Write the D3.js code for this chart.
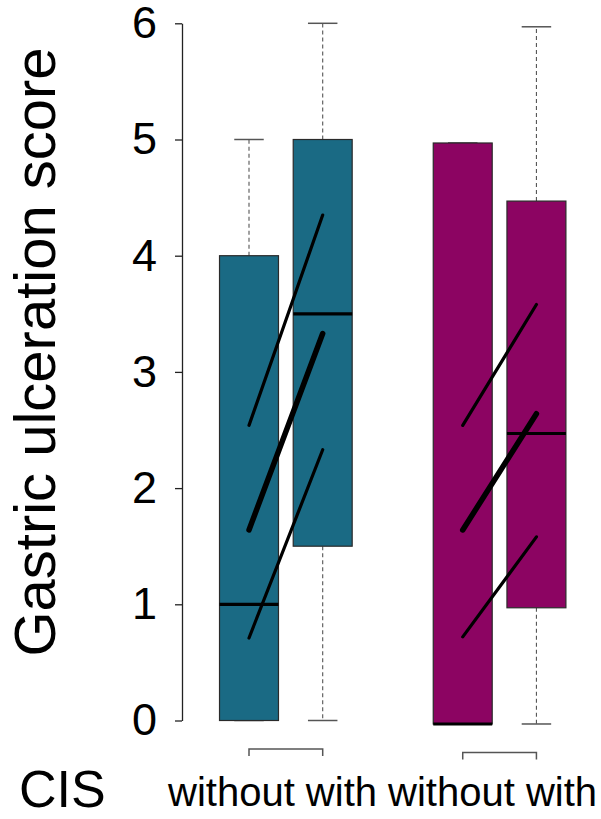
<!DOCTYPE html>
<html>
<head>
<meta charset="utf-8">
<script src="https://cdn.jsdelivr.net/npm/d3@7"></script>
<style>
  html, body { margin: 0; padding: 0; background: #fff; }
  svg { display: block; }
  text { font-family: "Liberation Sans", Arial, Helvetica, sans-serif; fill: #000; }
</style>
</head>
<body>
<svg id="chart" width="601" height="819"></svg>
<script>
// Box positions and group labels
const labels = ["without", "with", "without", "with"];
const positions = [1, 2, 3.9, 4.9];
const fills = ["#1a6a84", "#1a6a84", "#8c0462", "#8c0462"];

// Five-number summaries per box
const lowWhisker = [0, 0, -0.03, -0.03];
const q1 = [0, 1.5, -0.03, 0.97];
const medians = [1, 3.5, -0.03, 2.47];
const q3 = [4, 5, 4.97, 4.47];
const highWhisker = [5, 6, 4.97, 5.97];

// Paired trend segments: each pair runs from the "without" box to the "with" box
const pairStart = [1, 3.9];
const pairEnd = [2, 4.9];
const upperFrom = [2.54, 2.54];
const upperTo = [4.35, 3.58];
const meanFrom = [1.64, 1.64];
const meanTo = [3.33, 2.64];
const lowerFrom = [0.71, 0.72];
const lowerTo = [2.33, 1.58];

// Comparison brackets under each pair
const bracketLevel = [-0.245, -0.275];

const yTicks = [0, 1, 2, 3, 4, 5, 6];

const svg = d3.select("#chart");

const x = d3.scaleLinear().domain([1, 2]).range([249, 322.7]);
const y = d3.scaleLinear().domain([0, 6]).range([720.5, 23.3]);
const boxW = x(1.8) - x(1);
const capW = boxW / 2;

// Y axis
const yAxis = d3.axisLeft(y).tickValues(yTicks).tickFormat(d3.format("d"))
  .tickSize(7).tickSizeOuter(0).tickPadding(18);
const ya = svg.append("g").attr("transform", "translate(182,0)").call(yAxis);
ya.select(".domain").attr("stroke", "#222").attr("stroke-width", 1.3);
ya.selectAll(".tick line").attr("stroke", "#222").attr("stroke-width", 1.3);
ya.selectAll(".tick text").attr("font-size", 45).attr("fill", "#000")
  .attr("font-family", "Liberation Sans, Arial, sans-serif");

// Y title
svg.append("text")
  .attr("transform", "translate(55,352) rotate(-90)")
  .attr("text-anchor", "middle")
  .attr("font-size", 58)
  .text("Gastric ulceration score");

const boxes = svg.append("g");
positions.forEach((p, i) => {
  const cx = x(p);
  const g = boxes.append("g");
  // whiskers
  g.append("line").attr("x1", cx).attr("x2", cx)
    .attr("y1", y(q3[i])).attr("y2", y(highWhisker[i]))
    .attr("stroke", "#555").attr("stroke-width", 1.1).attr("stroke-dasharray", "4,3");
  g.append("line").attr("x1", cx).attr("x2", cx)
    .attr("y1", y(q1[i])).attr("y2", y(lowWhisker[i]))
    .attr("stroke", "#555").attr("stroke-width", 1.1).attr("stroke-dasharray", "4,3");
  // caps
  [highWhisker[i], lowWhisker[i]].forEach(v => {
    g.append("line").attr("x1", cx - capW / 2).attr("x2", cx + capW / 2)
      .attr("y1", y(v)).attr("y2", y(v))
      .attr("stroke", "#555").attr("stroke-width", 1.5);
  });
  // box
  g.append("rect")
    .attr("x", cx - boxW / 2).attr("width", boxW)
    .attr("y", y(q3[i])).attr("height", y(q1[i]) - y(q3[i]))
    .attr("fill", fills[i]).attr("stroke", "#2a2a2a").attr("stroke-width", 1.2);
  // median
  g.append("line").attr("x1", cx - boxW / 2).attr("x2", cx + boxW / 2)
    .attr("y1", y(medians[i])).attr("y2", y(medians[i]))
    .attr("stroke", "#000").attr("stroke-width", 3.2);
});

// Trend segments
const seg = svg.append("g").attr("stroke", "#000").attr("stroke-linecap", "round");
pairStart.forEach((s, k) => {
  const e = pairEnd[k];
  [[upperFrom[k], upperTo[k], 3.2], [meanFrom[k], meanTo[k], 5.5], [lowerFrom[k], lowerTo[k], 3.2]]
    .forEach(([a, b, w]) => {
      seg.append("line")
        .attr("x1", x(s)).attr("y1", y(a))
        .attr("x2", x(e)).attr("y2", y(b))
        .attr("stroke-width", w);
    });
  // bracket
  const by = y(bracketLevel[k]);
  svg.append("path")
    .attr("d", `M${x(s)},${by + 7}V${by}H${x(e)}V${by + 7}`)
    .attr("fill", "none").attr("stroke", "#555").attr("stroke-width", 1.5);
});

// Bottom labels
svg.append("text").attr("x", 19).attr("y", 807).attr("font-size", 52).text("CIS");
svg.append("text").attr("x", 168).attr("y", 806).attr("font-size", 40)
  .text(labels.join(" "));
</script>
</body>
</html>
